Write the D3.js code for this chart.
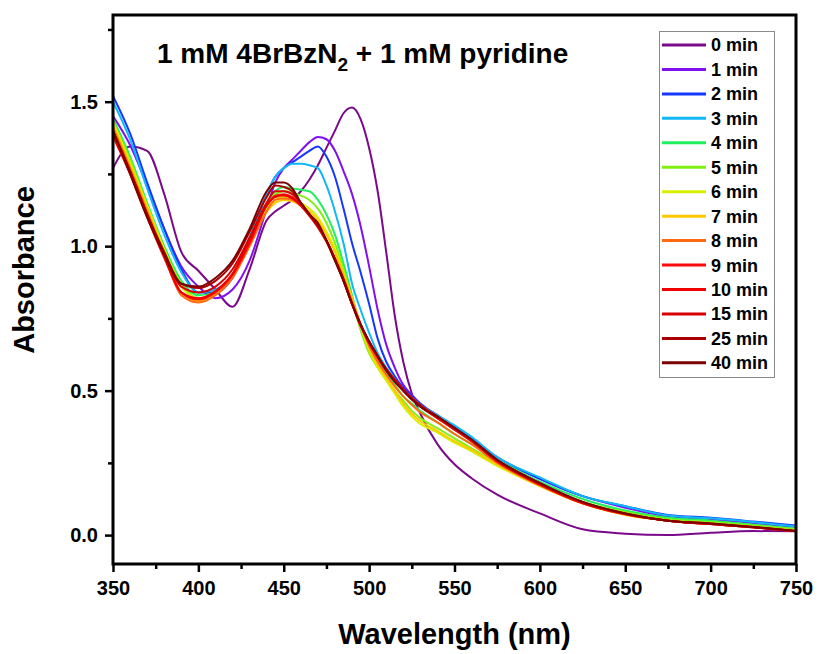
<!DOCTYPE html>
<html>
<head>
<meta charset="utf-8">
<script src="https://cdn.jsdelivr.net/npm/d3@7"></script>
<style>
    body { margin: 0; background: #fff; }
    text { font-family: Arial, "Liberation Sans", sans-serif; font-weight: bold; fill: #000; }
</style>
</head>
<body>
<div id="chart"></div>
<script>
// wavelength grid (nm) the absorbances below were read at
const wavelengths = [350, 360, 370, 380, 390, 400, 410, 420, 430, 440,
    445, 450, 455, 460, 465, 470, 475, 480, 485, 490, 495, 500, 505, 510, 515, 520, 525, 530,
    540, 550, 560, 575, 600, 625, 650, 675, 700, 725, 750];

const seriesLabels = ["0 min", "1 min", "2 min", "3 min", "4 min", "5 min", "6 min",
    "7 min", "8 min", "9 min", "10 min", "15 min", "25 min", "40 min"];
const seriesColors = ["#7a0a8a", "#8010f0", "#1438ff", "#10b8f8", "#20f060", "#80f010",
    "#d8f000", "#ffc800", "#ff6a10", "#ff0a0a", "#f00000", "#d80000", "#a80000", "#7c0000"];

const abs0 = [1.27, 1.345, 1.33, 1.18, 0.98, 0.915, 0.85, 0.79, 0.92, 1.09,
    1.12, 1.14, 1.16, 1.19, 1.23, 1.28, 1.34, 1.40, 1.46, 1.48, 1.44, 1.34, 1.19, 0.98, 0.76, 0.60, 0.49, 0.42,
    0.315, 0.245, 0.197, 0.14, 0.075, 0.02, 0.005, 0.0, 0.008, 0.014, 0.013];
const abs1 = [1.45, 1.35, 1.21, 1.06, 0.93, 0.86, 0.82, 0.85, 0.95, 1.13,
    1.22, 1.27, 1.30, 1.33, 1.36, 1.378, 1.37, 1.33, 1.26, 1.18, 1.07, 0.93, 0.78, 0.66, 0.58, 0.52, 0.485, 0.455,
    0.415, 0.375, 0.335, 0.27, 0.195, 0.135, 0.095, 0.065, 0.055, 0.042, 0.028];
const abs2 = [1.52, 1.39, 1.22, 1.06, 0.92, 0.84, 0.84, 0.89, 1.02, 1.18,
    1.24, 1.27, 1.29, 1.31, 1.33, 1.345, 1.31, 1.24, 1.13, 1.01, 0.91, 0.80, 0.68, 0.60, 0.55, 0.51, 0.48, 0.455,
    0.41, 0.375, 0.335, 0.268, 0.195, 0.135, 0.10, 0.07, 0.06, 0.047, 0.033];
const abs3 = [1.50, 1.37, 1.20, 1.04, 0.91, 0.84, 0.85, 0.90, 1.03, 1.18,
    1.24, 1.27, 1.285, 1.285, 1.28, 1.27, 1.21, 1.12, 1.01, 0.87, 0.78, 0.70, 0.63, 0.58, 0.54, 0.50, 0.475, 0.45,
    0.415, 0.38, 0.34, 0.27, 0.20, 0.135, 0.10, 0.068, 0.058, 0.045, 0.03];
const abs4 = [1.44, 1.31, 1.15, 1.00, 0.88, 0.83, 0.84, 0.90, 1.02, 1.15,
    1.19, 1.205, 1.20, 1.195, 1.19, 1.16, 1.11, 1.04, 0.94, 0.83, 0.72, 0.65, 0.60, 0.56, 0.52, 0.48, 0.455, 0.43,
    0.39, 0.35, 0.315, 0.26, 0.185, 0.125, 0.085, 0.06, 0.05, 0.036, 0.022];
const abs5 = [1.43, 1.30, 1.14, 0.99, 0.87, 0.82, 0.835, 0.895, 1.01, 1.14,
    1.18, 1.19, 1.185, 1.175, 1.16, 1.13, 1.08, 1.01, 0.92, 0.81, 0.71, 0.63, 0.58, 0.54, 0.50, 0.465, 0.43, 0.405,
    0.37, 0.335, 0.30, 0.25, 0.175, 0.115, 0.08, 0.055, 0.045, 0.033, 0.02];
const abs6 = [1.43, 1.29, 1.14, 0.99, 0.86, 0.82, 0.84, 0.90, 1.01, 1.13,
    1.16, 1.17, 1.17, 1.15, 1.13, 1.10, 1.05, 0.99, 0.91, 0.82, 0.72, 0.64, 0.58, 0.535, 0.49, 0.445, 0.41, 0.385,
    0.355, 0.32, 0.29, 0.24, 0.17, 0.11, 0.07, 0.05, 0.04, 0.028, 0.015];
const abs7 = [1.42, 1.28, 1.13, 0.98, 0.84, 0.81, 0.835, 0.895, 1.00, 1.12,
    1.15, 1.16, 1.155, 1.14, 1.12, 1.09, 1.04, 0.98, 0.90, 0.82, 0.73, 0.65, 0.59, 0.545, 0.50, 0.455, 0.42, 0.395,
    0.36, 0.325, 0.295, 0.245, 0.17, 0.11, 0.07, 0.05, 0.04, 0.028, 0.015];
const abs8 = [1.41, 1.27, 1.12, 0.97, 0.83, 0.805, 0.83, 0.89, 1.00, 1.12,
    1.16, 1.165, 1.16, 1.14, 1.11, 1.07, 1.02, 0.96, 0.89, 0.81, 0.73, 0.655, 0.60, 0.555, 0.515, 0.48, 0.45, 0.425,
    0.39, 0.35, 0.315, 0.25, 0.172, 0.11, 0.072, 0.05, 0.038, 0.027, 0.013];
const abs9 = [1.39, 1.26, 1.11, 0.97, 0.84, 0.815, 0.84, 0.90, 1.01, 1.14,
    1.175, 1.18, 1.17, 1.145, 1.11, 1.07, 1.02, 0.955, 0.885, 0.80, 0.725, 0.665, 0.615, 0.57, 0.535, 0.50, 0.47, 0.445,
    0.405, 0.365, 0.325, 0.255, 0.175, 0.11, 0.072, 0.05, 0.038, 0.027, 0.013];
const abs10 = [1.38, 1.25, 1.10, 0.96, 0.84, 0.82, 0.845, 0.905, 1.02, 1.14,
    1.17, 1.175, 1.165, 1.14, 1.105, 1.065, 1.015, 0.95, 0.88, 0.80, 0.725, 0.665, 0.615, 0.57, 0.535, 0.50, 0.47, 0.445,
    0.405, 0.365, 0.325, 0.255, 0.175, 0.112, 0.073, 0.05, 0.038, 0.027, 0.013];
const abs15 = [1.39, 1.26, 1.11, 0.97, 0.86, 0.84, 0.86, 0.92, 1.03, 1.15,
    1.19, 1.19, 1.18, 1.15, 1.11, 1.07, 1.02, 0.955, 0.885, 0.80, 0.725, 0.67, 0.62, 0.575, 0.54, 0.505, 0.475, 0.45,
    0.41, 0.37, 0.33, 0.26, 0.178, 0.113, 0.074, 0.05, 0.038, 0.027, 0.013];
const abs25 = [1.40, 1.26, 1.11, 0.98, 0.87, 0.855, 0.88, 0.94, 1.05, 1.17,
    1.21, 1.205, 1.19, 1.15, 1.11, 1.07, 1.02, 0.955, 0.88, 0.80, 0.73, 0.67, 0.62, 0.575, 0.535, 0.50, 0.47, 0.445,
    0.41, 0.37, 0.33, 0.26, 0.18, 0.115, 0.075, 0.05, 0.04, 0.028, 0.014];
const abs40 = [1.40, 1.25, 1.10, 0.97, 0.87, 0.86, 0.89, 0.95, 1.06, 1.19,
    1.22, 1.22, 1.20, 1.15, 1.11, 1.08, 1.02, 0.95, 0.88, 0.80, 0.73, 0.67, 0.62, 0.57, 0.53, 0.50, 0.47, 0.445,
    0.41, 0.37, 0.33, 0.26, 0.18, 0.115, 0.075, 0.05, 0.04, 0.028, 0.014];

const series = [abs0, abs1, abs2, abs3, abs4, abs5, abs6, abs7, abs8, abs9, abs10, abs15, abs25, abs40];

const xTicks = [350, 400, 450, 500, 550, 600, 650, 700, 750];
const xMinorTicks = [375, 425, 475, 525, 575, 625, 675, 725];
const yTicks = [0.0, 0.5, 1.0, 1.5];
const yMinorTicks = [0.25, 0.75, 1.25, 1.75];

const width = 819;
const height = 654;
const plot = {left: 113, right: 796, top: 15, bottom: 564};

const svg = d3.select("#chart").append("svg")
    .attr("width", width)
    .attr("height", height);

const x = d3.scaleLinear().domain([350, 750]).range([plot.left, plot.right]);
const y = d3.scaleLinear().domain([-0.1, 1.8]).range([plot.bottom, plot.top]);

svg.append("clipPath").attr("id", "clip")
    .append("rect")
    .attr("x", plot.left).attr("y", plot.top)
    .attr("width", plot.right - plot.left).attr("height", plot.bottom - plot.top);

const line = d3.line()
    .x((d, i) => x(wavelengths[i]))
    .y(d => y(d))
    .curve(d3.curveMonotoneX);

svg.append("g")
    .attr("clip-path", "url(#clip)")
    .selectAll("path")
    .data(series)
    .join("path")
    .attr("d", line)
    .attr("fill", "none")
    .attr("stroke", (d, i) => seriesColors[i])
    .attr("stroke-width", 2)
    .attr("stroke-linejoin", "round");

// axes: major + minor ticks, outward
function styleAxis(g) {
    g.select(".domain").remove();
    g.selectAll(".tick line").attr("stroke", "#000").attr("stroke-width", 2.5);
    g.selectAll(".tick text").attr("font-size", 20).attr("font-weight", "bold")
        .attr("font-family", "Arial, 'Liberation Sans', sans-serif");
}

svg.append("g")
    .attr("transform", `translate(0,${plot.bottom})`)
    .call(d3.axisBottom(x).tickValues(xTicks).tickSize(8).tickPadding(9).tickFormat(d3.format("d")))
    .call(styleAxis);
svg.append("g")
    .attr("transform", `translate(0,${plot.bottom})`)
    .call(d3.axisBottom(x).tickValues(xMinorTicks).tickSize(5).tickFormat(""))
    .call(styleAxis);
svg.append("g")
    .attr("transform", `translate(${plot.left},0)`)
    .call(d3.axisLeft(y).tickValues(yTicks).tickSize(8).tickPadding(7).tickFormat(d3.format(".1f")))
    .call(styleAxis);
svg.append("g")
    .attr("transform", `translate(${plot.left},0)`)
    .call(d3.axisLeft(y).tickValues(yMinorTicks).tickSize(5).tickFormat(""))
    .call(styleAxis);

// frame
svg.append("rect")
    .attr("x", plot.left).attr("y", plot.top)
    .attr("width", plot.right - plot.left).attr("height", plot.bottom - plot.top)
    .attr("fill", "none")
    .attr("stroke", "#000")
    .attr("stroke-width", 3);

// axis titles
svg.append("text")
    .attr("x", (plot.left + plot.right) / 2)
    .attr("y", 644)
    .attr("text-anchor", "middle")
    .attr("font-size", 29)
    .text("Wavelength (nm)");

svg.append("text")
    .attr("transform", "translate(34,270) rotate(-90)")
    .attr("text-anchor", "middle")
    .attr("font-size", 29)
    .text("Absorbance");

// title with subscript
const title = svg.append("text")
    .attr("x", 157)
    .attr("y", 63)
    .attr("font-size", 28)
    .style("white-space", "pre");
title.append("tspan").text("1 mM 4BrBzN");
title.append("tspan").attr("dy", 8).attr("font-size", 19).text("2");
title.append("tspan").attr("dy", -8).text(" + 1 mM pyridine");

// legend
const legend = svg.append("g");
legend.append("rect")
    .attr("x", 659.5).attr("y", 31.5)
    .attr("width", 115).attr("height", 346)
    .attr("fill", "#fff")
    .attr("stroke", "#8a8a8a")
    .attr("stroke-width", 1);

const entries = legend.selectAll("g.entry")
    .data(seriesLabels)
    .join("g")
    .attr("class", "entry")
    .attr("transform", (d, i) => `translate(0,${45 + i * 24.45})`);
entries.append("line")
    .attr("x1", 662).attr("x2", 706)
    .attr("stroke", (d, i) => seriesColors[i])
    .attr("stroke-width", 3);
entries.append("text")
    .attr("x", 711)
    .attr("dy", "0.36em")
    .attr("font-size", 18)
    .text(d => d);
</script>
</body>
</html>
